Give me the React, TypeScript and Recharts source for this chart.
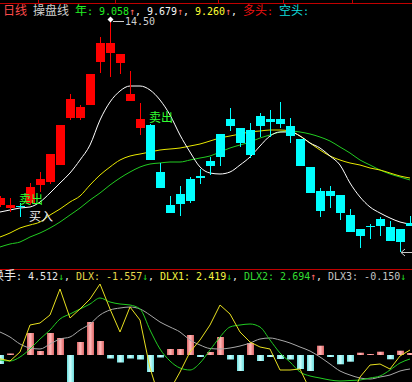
import React from 'react';
import { ComposedChart, Bar, Line, XAxis, YAxis, ReferenceDot } from 'recharts';

// ---- categories (trading days) ----
const days = ['1','2','3','4','5','6','7','8','9','10','11','12','13','14','15','16','17','18','19','20','21','22','23','24','25','26','27','28','29','30','31','32','33','34','35','36','37','38','39','40','41','42'];

// ---- K-line prices ----
const open = [9.875, 9.8, 9.85, 9.925, 10.375, 10.45, 10.875, 12.05, 12.05, 12.375, 13.45, 13.675, 13.425, 12.475, 11.8, 11.875, 10.7, 9.875, 10.15, 10.525, 10.6, 10.975, 11.65, 12.025, 11.8, 11.75, 12.1, 12.025, 12.025, 11.85, 11.525, 10.825, 10.225, 10.225, 10.125, 9.625, 9.275, 9.35, 9.525, 9.325, 9.275, 9.425];
const close = [10.05, 9.875, 9.825, 10.325, 10.525, 11.15, 11.875, 12.525, 12.325, 13.15, 13.925, 13.925, 13.65, 12.65, 12.025, 11.0, 10.3, 9.675, 9.9, 9.975, 10.55, 10.85, 11.075, 11.85, 11.425, 11.125, 11.85, 11.95, 11.9, 11.6, 10.85, 10.175, 9.725, 10.1, 9.675, 9.2, 9.1, 9.325, 9.35, 8.975, 8.95, 9.35];
const high = [10.1, 10.05, 9.925, 10.425, 10.7, 11.15, 11.875, 12.65, 12.375, 13.15, 14.075, 14.5, 13.65, 13.225, 12.425, 11.9, 10.925, 10.1, 10.35, 10.575, 10.775, 11.075, 11.65, 12.3, 11.8, 11.925, 12.175, 12.25, 12.45, 12.05, 11.525, 10.825, 10.3, 10.35, 10.125, 9.775, 9.275, 9.4, 9.575, 9.475, 9.275, 9.6];
const low = [9.825, 9.7, 9.575, 9.875, 10.2, 10.4, 10.875, 12.0, 12.0, 12.375, 13.175, 13.075, 13.15, 12.475, 11.625, 11.0, 10.3, 9.675, 9.6, 9.925, 10.4, 10.625, 10.85, 11.725, 11.325, 11.05, 11.575, 11.575, 11.8, 11.425, 10.85, 10.175, 9.575, 9.8, 9.5, 9.2, 8.8, 9.025, 9.1, 8.975, 8.7, 9.35];

// ---- 操盘线 moving lines ----
const maWhite = [9.7, 9.75, 9.8, 9.825, 9.95, 10.175, 10.425, 10.675, 11.0, 11.375, 12.0, 12.45, 12.725, 12.85, 12.85, 12.75, 12.5, 12.125, 11.625, 11.2, 10.825, 10.675, 10.65, 10.7, 10.875, 11.075, 11.35, 11.6, 11.7, 11.7, 11.6, 11.425, 11.3, 11.1, 10.875, 10.425, 10.075, 9.825, 9.675, 9.55, 9.45, 9.4];
const maYellow = [9.075, 9.175, 9.3, 9.375, 9.45, 9.625, 9.775, 9.95, 10.1, 10.375, 10.625, 10.825, 11.0, 11.1, 11.15, 11.2, 11.25, 11.275, 11.3, 11.35, 11.4, 11.475, 11.55, 11.6, 11.65, 11.7, 11.725, 11.75, 11.75, 11.725, 11.6, 11.425, 11.25, 11.1, 11.0, 10.925, 10.875, 10.8, 10.75, 10.675, 10.6, 10.55];
const maGreen = [8.825, 8.9, 8.95, 9.075, 9.175, 9.3, 9.45, 9.625, 9.8, 10.0, 10.175, 10.375, 10.55, 10.7, 10.825, 10.9, 10.925, 10.95, 10.95, 11.0, 11.05, 11.1, 11.2, 11.3, 11.375, 11.45, 11.55, 11.625, 11.7, 11.725, 11.7, 11.65, 11.575, 11.475, 11.325, 11.175, 11.0, 10.875, 10.75, 10.65, 10.575, 10.5];

// ---- lower indicator ----
const dlxBar = [-0.9, 0.15, 0, 2.2, 0.4, 2.2, 1.7, -3.0, 1.3, 3.3, 1.4, -0.35, -0.75, -0.35, -0.45, -1.7, -0.25, 0.6, 0.6, 2.0, -0.2, 0.3, 1.8, -0.45, -1.6, 1.2, -0.6, -0.2, -0.4, -0.45, -1.4, -1.6, 0.93, -0.2, -0.93, -0.67, 0.23, 0.1, 0.33, -0.43, 0.43, 0.2];
const dlx1 = [-0.37, -0.6, 0.3, 3.0, 3.2, 4.0, 6.6, 3.7, 4.6, 5.6, 7.1, 4.6, 2.3, 4.8, 3.5, -1.3, -4.5, -3.5, -1.7, 0.3, 1.5, 3.0, 5.0, 4.1, 2.3, 1.3, 0.8, 0.6, -1.5, -1.5, -1.4, -3.5, -4.5, -4.5, -4.5, -4.5, -2.2, -1.0, -0.9, -1.4, -0.1, 0.5];
const dlx2 = [-0.5, -0.6, -0.2, 0.6, 1.6, 2.5, 3.6, 4.1, 4.6, 5.1, 5.7, 5.3, 5.1, 5.0, 4.6, 2.5, 0.6, -0.6, -1.3, -1.5, -0.8, 0.5, 1.8, 2.8, 3.0, 3.1, 2.8, 1.5, 0.2, -0.7, -1.7, -2.1, -2.3, -2.5, -2.6, -2.55, -2.5, -2.3, -2.1, -1.5, -0.8, -0.4];
const dlx3 = [2.3, 1.8, 1.1, 0.7, 0.6, 1.1, 1.6, 1.8, 2.5, 3.1, 4.0, 4.5, 4.7, 4.8, 4.6, 4.0, 3.3, 2.8, 2.3, 1.5, 1.0, 0.65, 0.6, 0.7, 0.9, 1.2, 1.6, 1.7, 1.5, 1.2, 0.8, 0.4, -0.2, -0.9, -1.6, -2.0, -2.3, -2.4, -2.2, -2.0, -1.6, -1.4];

// ---- header values ----
const lineValues = ['9.058', '9.679', '9.260'];
const subValues = ['4.512', '-1.557', '2.419', '2.694', '-0.150'];

// ---- signal labels ----
const highMark = { day: '12', price: 14.5, label: '14.50' };
const lowMark = { day: '41', price: 8.7 };
const signals = [
  { day: '3', price: 9.9, label: '卖出', color: '#33ff33' },
  { day: '4', price: 9.475, label: '买入', color: '#f0f0f0' },
  { day: '16', price: 11.95, label: '卖出', color: '#33ff33' },
];

const rows = days.map((day, i) => ({
  day, open: open[i], close: close[i], high: high[i], low: low[i],
  maW: maWhite[i], maY: maYellow[i], maG: maGreen[i],
}));
const subRows = days.map((day, i) => ({ day, dlx: dlxBar[i], dlx1: dlx1[i], dlx2: dlx2[i], dlx3: dlx3[i] }));

const CJK = '"Noto Sans CJK SC", sans-serif';
const MONO = '"DejaVu Sans Mono", "Liberation Mono", monospace';

const CandleShape = (props: any) => {
  const { x, y, width, height, payload } = props;
  if (!payload) return null;
  const { open: o, close: c, high: h, low: l } = payload;
  const cx = Math.round(x + width / 2);
  const span = h - l;
  const py = (p: number) => y + ((h - p) / span) * height;
  const color = c >= o ? '#ff0000' : '#00ffff';
  const top = py(Math.max(o, c));
  const bot = py(Math.min(o, c));
  return (
    <g>
      <line x1={cx + 0.5} x2={cx + 0.5} y1={y} y2={y + height} stroke={color} strokeWidth={1} />
      <rect x={cx - 4} y={top} width={9} height={Math.max(1, bot - top)} fill={color} />
    </g>
  );
};

const HistShape = (props: any) => {
  const { x, width, y, height, payload } = props;
  if (!payload || Math.abs(payload.dlx) < 0.01) return null;
  const cx = Math.round(x + width / 2);
  const top = Math.min(y, y + height);
  const h = Math.abs(height);
  const pos = payload.dlx >= 0;
  return <rect x={cx - 3} y={top} width={7} height={Math.max(1, h)} fill={pos ? 'url(#gPink)' : 'url(#gCyan)'} />;
};

type Seg = [string, string, boolean?];

function segWidth(s: string, cjk?: boolean) {
  return cjk ? s.length * 12 : s.length * 6;
}

function HeaderText({ segs, x0, y }: { segs: Seg[]; x0: number; y: number }) {
  let x = x0;
  const out: any[] = [];
  segs.forEach((s, i) => {
    out.push(
      <text key={i} x={x} y={y} fill={s[1]} fontFamily={s[2] ? CJK : MONO} fontSize={s[2] ? 12 : 10} style={{ whiteSpace: 'pre' }}>
        {s[0]}
      </text>
    );
    x += segWidth(s[0], s[2]);
  });
  return <g>{out}</g>;
}

const topSegs: Seg[] = [
  ['日线', '#ff4a4a', true],
  [' ', '#fff'],
  ['操盘线', '#cfcfcf', true],
  [' ', '#fff'],
  ['年', '#22ee22', true],
  [': ' + lineValues[0], '#22ee22'],
  ['↑', '#ff6a6a'],
  [', ', '#f0f0f0'],
  [lineValues[1], '#f4f4f4'],
  ['↑', '#ff6a6a'],
  [', ', '#f0f0f0'],
  [lineValues[2], '#ffff33'],
  ['↑', '#ff6a6a'],
  [', ', '#f0f0f0'],
  ['多头', '#ee1111', true],
  [': ', '#ee1111'],
  ['空头', '#11dddd', true],
  [':', '#11dddd'],
];

const subSegs: Seg[] = [
  ['换手', '#e8e8e8', true],
  [': ' + subValues[0], '#e8e8e8'],
  ['↓', '#22dd22'],
  [', ', '#e8e8e8'],
  ['DLX: ' + subValues[1], '#e6d84a'],
  ['↓', '#22dd22'],
  [', ', '#e8e8e8'],
  ['DLX1: ' + subValues[2], '#f4f440'],
  ['↓', '#22dd22'],
  [', ', '#e8e8e8'],
  ['DLX2: ' + subValues[3], '#33dd33'],
  ['↑', '#ff6a6a'],
  [', ', '#e8e8e8'],
  ['DLX3: ' + subValues[4], '#c4c4c4'],
  ['↓', '#22dd22'],
];

const frameTicks = [38, 115, 218, 283, 352];

export default function App() {
  return (
    <div style={{ position: 'fixed', left: 0, top: 0, width: 412, height: 382, background: '#000', overflow: 'hidden' }}>
      <div style={{ position: 'absolute', left: -5, top: 0 }}>
        <ComposedChart width={420} height={266} data={rows} margin={{ top: 10, right: 0, bottom: 2, left: 0 }}>
          <XAxis dataKey="day" hide />
          <YAxis hide domain={[8.4, 14.75]} allowDataOverflow />
          <Line type="monotone" dataKey="maG" stroke="#22cc22" strokeWidth={1} dot={false} isAnimationActive={false} />
          <Line type="monotone" dataKey="maY" stroke="#e8e800" strokeWidth={1} dot={false} isAnimationActive={false} />
          <Line type="monotone" dataKey="maW" stroke="#ffffff" strokeWidth={1} dot={false} isAnimationActive={false} />
          <Bar dataKey={(d: any) => [d.low, d.high]} shape={CandleShape} isAnimationActive={false} zIndex={450} />
          <ReferenceDot
            x={highMark.day}
            y={highMark.price}
            r={0}
            shape={(p: any) => (
              <g>
                <polygon points={`${p.cx + 0.5},${p.cy - 3.5} ${p.cx + 3.5},${p.cy - 0.5} ${p.cx + 0.5},${p.cy + 2.5} ${p.cx - 2.5},${p.cy - 0.5}`} fill="#ffffff" />
                <line x1={p.cx + 3} x2={p.cx + 14} y1={p.cy + 1.5} y2={p.cy + 1.5} stroke="#cfcfcf" strokeWidth={1} />
                <text x={p.cx + 15} y={p.cy + 5} fill="#cfcfcf" fontFamily={MONO} fontSize={10}>{highMark.label}</text>
              </g>
            )}
          />
          <ReferenceDot
            x={lowMark.day}
            y={lowMark.price}
            r={0}
            shape={(p: any) => (
              <g stroke="#c8c8c8" strokeWidth={1}>
                <line x1={p.cx + 1} x2={p.cx + 13} y1={p.cy + 0.5} y2={p.cy + 0.5} />
                <line x1={p.cx + 1} x2={p.cx + 5} y1={p.cy + 0.5} y2={p.cy - 3} />
                <line x1={p.cx + 1} x2={p.cx + 5} y1={p.cy + 0.5} y2={p.cy + 4} />
              </g>
            )}
          />
          {signals.map((s, i) => (
            <ReferenceDot
              key={i}
              x={s.day}
              y={s.price}
              r={0}
              shape={(p: any) => (
                <text x={p.cx - 1} y={p.cy} fill={s.color} fontFamily={CJK} fontSize={12}>{s.label}</text>
              )}
            />
          ))}
        </ComposedChart>
      </div>
      <div style={{ position: 'absolute', left: -5, top: 270 }}>
        <ComposedChart width={420} height={115} data={subRows} margin={{ top: 13, right: 0, bottom: 0, left: 0 }}>
          <defs>
            <linearGradient id="gPink" x1="0" y1="0" x2="1" y2="0">
              <stop offset="0" stopColor="#dc6464" />
              <stop offset="0.45" stopColor="#ffbcbc" />
              <stop offset="1" stopColor="#dc6464" />
            </linearGradient>
            <linearGradient id="gCyan" x1="0" y1="0" x2="1" y2="0">
              <stop offset="0" stopColor="#6adcdc" />
              <stop offset="0.45" stopColor="#d0ffff" />
              <stop offset="1" stopColor="#6adcdc" />
            </linearGradient>
          </defs>
          <XAxis dataKey="day" hide />
          <YAxis hide domain={[-3, 7.2]} allowDataOverflow />
          <Bar dataKey="dlx" shape={HistShape} isAnimationActive={false} />
          <Line type="monotone" dataKey="dlx3" stroke="#a8a8a8" strokeWidth={1} dot={false} isAnimationActive={false} />
          <Line type="monotone" dataKey="dlx2" stroke="#22cc22" strokeWidth={1} dot={false} isAnimationActive={false} />
          <Line type="linear" dataKey="dlx1" stroke="#e8e020" strokeWidth={1} dot={false} isAnimationActive={false} />
        </ComposedChart>
      </div>
      <svg width={412} height={382} style={{ position: 'absolute', left: 0, top: 0, pointerEvents: 'none' }}>
        <line x1={0} x2={412} y1={3.5} y2={3.5} stroke="#c00000" strokeWidth={1} />
        {frameTicks.map((t) => (
          <line key={t} x1={t + 0.5} x2={t + 0.5} y1={0} y2={3} stroke="#c00000" strokeWidth={1} />
        ))}
        <HeaderText segs={topSegs} x0={3} y={15} />
        <line x1={0} x2={412} y1={269.5} y2={269.5} stroke="#c00000" strokeWidth={1} />
        <HeaderText segs={subSegs} x0={-8} y={280} />
      </svg>
    </div>
  );
}
